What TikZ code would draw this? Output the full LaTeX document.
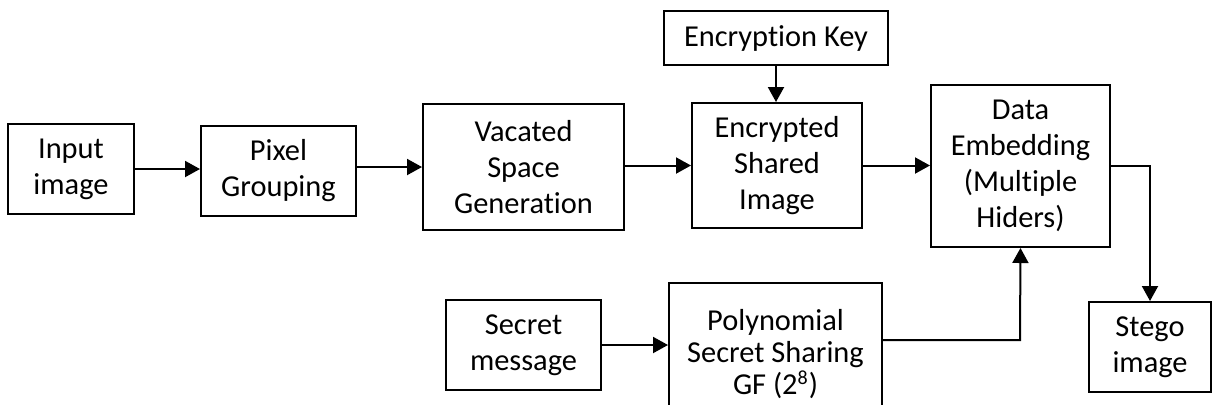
\documentclass[tikz,border=0pt]{standalone}
\usepackage{fontspec}
\setmainfont[Ligatures={NoCommon}]{Carlito}
\usetikzlibrary{arrows.meta}
\begin{document}
\begin{tikzpicture}[x=0.5pt,y=-0.5pt,
  box/.style={draw=black, line width=1pt, align=center, inner sep=0pt,
    font=\fontsize{15.2}{18}\selectfont},
  conn/.style={line width=1pt, -{Triangle[length=7.5pt,width=8pt]}},
  plain/.style={line width=1pt}]
\useasboundingbox (0,0) rectangle (1212,404);
\node[box, minimum width=63pt, minimum height=45pt] (in) at (71,169) {Input\\image};
\node[box, minimum width=77.5pt, minimum height=45pt] (pix) at (278.5,171) {Pixel\\Grouping};
\node[box, minimum width=100.5pt, minimum height=63pt] (vac) at (523.5,167) {Vacated\\Space\\Generation};
\node[box, minimum width=85pt, minimum height=62.5pt] (enc) at (777,165.5) {Encrypted\\Shared\\Image};
\node[box, minimum width=112pt, minimum height=27pt] (key) at (776,38) {Encryption Key};
\node[box, minimum width=89.5pt, minimum height=81pt] (data) at (1020.5,166) {Data\\Embedding\\(Multiple\\Hiders)};
\node[box, minimum width=61pt, minimum height=45pt] (stego) at (1150,347) {Stego\\image};
\node[box, minimum width=77.5pt, minimum height=45pt] (sec) at (523.5,345) {Secret\\message};
\node[box, minimum width=106.5pt, minimum height=73.5pt] (poly) at (775.5,356.5) {};
\node[align=center, inner sep=0pt, font=\fontsize{15.2}{16}\selectfont] (polyt) at (775.5,354) {Polynomial\\Secret Sharing\\GF (2\textsuperscript{\fontsize{10}{10}\selectfont 8})};
\coordinate (j) at (1020,340);
\draw[conn] (in) -- (in -| pix.west);
\draw[conn] (vac.west -| pix.east) -- (vac.west);
\draw[conn] (enc.west -| vac.east) -- (enc.west);
\draw[conn] (enc.east) -- (enc.east -| data.west);
\draw[conn] (key.south) -- (key.south |- enc.north);
\draw[conn] (data.east) -- (stego.north |- data.east) -- (stego.north);
\draw[conn] (sec.east) -- (sec.east -| poly.west);
\draw[conn] (j -| poly.east) -- (j) -- (data.south);
\end{tikzpicture}
\end{document}
